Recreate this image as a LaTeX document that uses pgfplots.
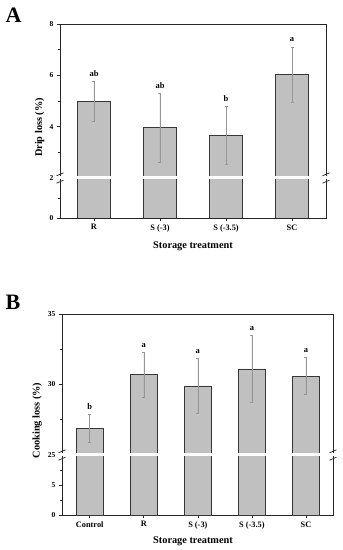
\documentclass[border=0pt]{standalone}
\usepackage{fontspec}
\setmainfont{Liberation Serif}
\usepackage{pgfplots}
\usepackage{pgfplotstable}
\pgfplotsset{compat=1.18}
\definecolor{barfill}{RGB}{192,192,192}
\definecolor{bardraw}{RGB}{55,55,55}
\definecolor{errc}{RGB}{150,150,150}

\pgfplotstableread{
x y e
0 4.98 0.78
1 3.96 1.33
2 3.65 1.13
3 6.03 1.08
}\dataA

\pgfplotstableread{
x y e
0 26.88 1.00
1 30.70 1.60
2 29.90 1.93
3 31.10 2.38
4 30.60 1.31
}\dataB

\pgfplotsset{
  brk/.style={
    scale only axis,
    anchor=south west,
    ybar, bar width=0.5,
    axis line style={line width=0.8pt, black!85},
    tick align=outside,
    xtick pos=bottom, ytick pos=left,
    major tick length=3pt, minor tick length=2pt,
    tick style={line width=0.7pt, black!85},
    ticklabel style={font=\bfseries\fontsize{7.5}{8}\selectfont},
    xticklabel style={font=\bfseries\fontsize{8.3}{9}\selectfont},
    /pgf/number format/assume math mode=true,
    clip=true,
  },
  barplot/.style={fill=barfill, draw=bardraw, line width=0.8pt,
    error bars/.cd, y dir=both, y explicit,
    error bar style={errc, line width=0.5pt},
    error mark options={rotate=90, errc, mark size=1.5pt, line width=0.5pt}},
}
\newcommand{\lett}{\bfseries\fontsize{8.5}{9}\selectfont}
\newcommand{\labf}{\bfseries\fontsize{10.3}{12}\selectfont}

\begin{document}
\begin{tikzpicture}
\useasboundingbox (0pt,0pt) rectangle (343pt,550pt);

% ---------- Panel A ----------
\begin{axis}[brk, at={(60pt,372pt)}, width=266pt, height=154pt,
  xmin=-0.515, xmax=3.515, ymin=2, ymax=8,
  ytick={2,4,6,8}, minor ytick={3,5,7}, xtick=\empty]
  \addplot[barplot] table[x=x,y=y,y error=e] {\dataA};
  \node[anchor=base, font=\lett, yshift=5pt] at (axis cs:0,5.76) {ab};
  \node[anchor=base, font=\lett, yshift=5pt] at (axis cs:1,5.29) {ab};
  \node[anchor=base, font=\lett, yshift=5pt] at (axis cs:2,4.78) {b};
  \node[anchor=base, font=\lett, yshift=5pt] at (axis cs:3,7.11) {a};
\end{axis}
\begin{axis}[brk, at={(60pt,332pt)}, width=266pt, height=40pt,
  xmin=-0.515, xmax=3.515, ymin=0, ymax=2,
  ytick={0}, minor ytick={1},
  xtick={0,1,2,3}, xticklabels={R,S (-3),S (-3.5),SC}]
  \addplot[barplot] table[x=x,y=y,y error=e] {\dataA};
\end{axis}
\fill[white] (57pt,370.5pt) rectangle (329pt,373.5pt);
\foreach \xx in {60,326} {
  \draw[black!85, line width=0.7pt] (\xx pt-3.5pt,366.8pt) -- (\xx pt+3.5pt,369.8pt);
  \draw[black!85, line width=0.7pt] (\xx pt-3.5pt,374.2pt) -- (\xx pt+3.5pt,377.2pt);
}
\node[rotate=90, font=\labf] at (39.7pt,422.5pt) {Drip loss (\%)};
\node[font=\labf] at (193pt,304pt) {Storage treatment};
\node[font=\bfseries\fontsize{22}{22}\selectfont] at (13.5pt,534.5pt) {A};

% ---------- Panel B ----------
\begin{axis}[brk, at={(62pt,95pt)}, width=271pt, height=141pt,
  xmin=-0.513, xmax=4.5, ymin=25, ymax=35,
  ytick={25,30,35}, minor ytick={27.5,32.5}, xtick=\empty]
  \addplot[barplot] table[x=x,y=y,y error=e] {\dataB};
  \node[anchor=base, font=\lett, yshift=4.5pt] at (axis cs:0,27.88) {b};
  \node[anchor=base, font=\lett, yshift=5pt] at (axis cs:1,32.30) {a};
  \node[anchor=base, font=\lett, yshift=5pt] at (axis cs:2,31.83) {a};
  \node[anchor=base, font=\lett, yshift=5pt] at (axis cs:3,33.48) {a};
  \node[anchor=base, font=\lett, yshift=5pt] at (axis cs:4,31.91) {a};
\end{axis}
\begin{axis}[brk, at={(62pt,35pt)}, width=271pt, height=60pt,
  xmin=-0.513, xmax=4.5, ymin=0, ymax=10,
  ytick={0,5}, minor ytick={2.5,7.5},
  xtick={0,1,2,3,4}, xticklabels={Control,R,S (-3),S (-3.5),SC}]
  \addplot[barplot] table[x=x,y=y,y error=e] {\dataB};
\end{axis}
\fill[white] (59pt,93.5pt) rectangle (336pt,96.5pt);
\foreach \xx in {62,333} {
  \draw[black!85, line width=0.7pt] (\xx pt-3.5pt,89.8pt) -- (\xx pt+3.5pt,92.8pt);
  \draw[black!85, line width=0.7pt] (\xx pt-3.5pt,97.2pt) -- (\xx pt+3.5pt,100.2pt);
}
\node[rotate=90, font=\labf] at (37.3pt,129.5pt) {Cooking loss (\%)};
\node[font=\labf] at (193pt,8.5pt) {Storage treatment};
\node[font=\bfseries\fontsize{22}{22}\selectfont] at (13pt,247.5pt) {B};
\end{tikzpicture}
\end{document}
